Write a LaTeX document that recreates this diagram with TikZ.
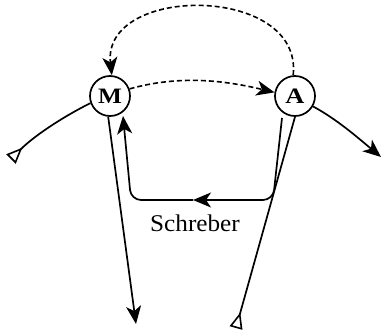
\documentclass[tikz,border=0pt]{standalone}
\usepackage{fontspec}
\setmainfont{Liberation Serif}
\usetikzlibrary{arrows.meta}
\begin{document}
\begin{tikzpicture}[x=1pt,y=-1pt,
  vertex/.style={circle,draw,line width=1.7pt,minimum size=40pt,inner sep=0pt,font=\fontsize{22}{22}\selectfont\bfseries},
  conn/.style={line width=1.7pt},
  dashedconn/.style={line width=1.6pt,dash pattern=on 5pt off 3pt},
  tip/.style={-{Stealth[length=18pt,width=15pt,inset=5pt]}},
  otip/.style={-{Triangle[open,reversed,length=16pt,width=13pt,line width=1.6pt]}}
]
\useasboundingbox (0,0) rectangle (381,330);
\node[vertex] (M) at (110,96) {\scalebox{1.15}[1]{M}};
\node[vertex] (A) at (295,96) {\scalebox{1.2}[1]{A}};
\node[font=\fontsize{24}{24}\selectfont, anchor=base, inner sep=0pt] (S) at (195,231) {\scalebox{1.05}[1]{Schreber}};
\coordinate (ltail) at (11,159);
\coordinate (rhead) at (381,157);
\coordinate (mhead) at (136,324);
\coordinate (atail) at (236,328);
\coordinate (u0) at (282,118);
\coordinate (ur) at (273,200);
\coordinate (um) at (193,200);
\coordinate (ul) at (131,200);
\coordinate (u1) at (123,116);
\draw[dashedconn,tip] (A.95) .. controls +(10,-91) and +(-10,-91) .. (M.85);
\draw[dashedconn,tip] (M.20) .. controls +(50,-14) and +(-50,-12) .. (A.170);
\draw[conn,otip] (M.200) .. controls +(-30,15) and +(22,-22) .. (ltail);
\draw[conn,tip] (A.-30) .. controls +(24,13) and +(-24,-20) .. (rhead);
\draw[conn,tip] (M.-95) -- (mhead);
\draw[conn,otip] (A.-90) -- (atail);
\draw[conn,tip,rounded corners=10pt] (u0) -- (ur) -- (um);
\draw[conn,tip,rounded corners=10pt] (um) -- (ul) -- (u1);
\end{tikzpicture}
\end{document}
